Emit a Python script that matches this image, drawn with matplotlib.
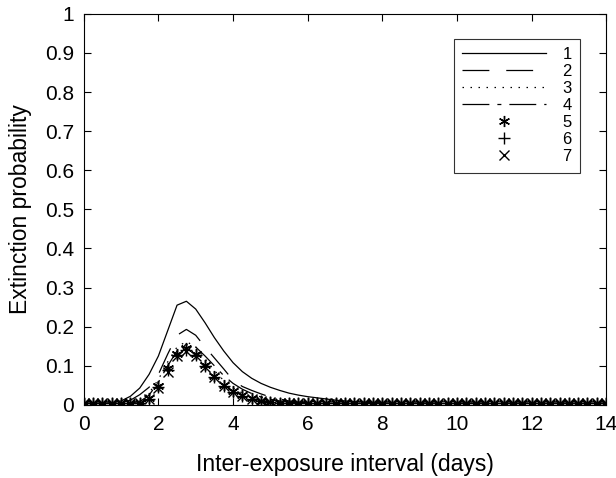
import numpy as np
import matplotlib.pyplot as plt

plt.rcParams["font.family"] = ["Liberation Sans", "DejaVu Sans"]

# =========================
# DATA (0.25 day steps)
# =========================
interval_days = np.arange(0, 14.01, 0.25)

# head values up to x = 8.0, rest is a flat tail
s1_head = [0.004, 0.004, 0.004, 0.005, 0.010, 0.022, 0.043, 0.078, 0.125, 0.190,
           0.255, 0.265, 0.245, 0.210, 0.172, 0.138, 0.108, 0.085, 0.068, 0.055,
           0.045, 0.037, 0.030, 0.025, 0.021, 0.018, 0.015, 0.012, 0.010, 0.008,
           0.007, 0.006, 0.005]
s2_head = [0.004, 0.004, 0.004, 0.004, 0.006, 0.012, 0.026, 0.045, 0.078, 0.130,
           0.178, 0.193, 0.178, 0.148, 0.120, 0.092, 0.063, 0.047, 0.037, 0.028,
           0.020, 0.015, 0.010, 0.007, 0.005]
s3_head = [0.004, 0.004, 0.004, 0.004, 0.004, 0.005, 0.010, 0.030, 0.065, 0.110,
           0.148, 0.162, 0.148, 0.118, 0.088, 0.062, 0.043, 0.030, 0.021, 0.014,
           0.010, 0.007, 0.005]
s4_head = [0.004, 0.004, 0.004, 0.004, 0.004, 0.005, 0.008, 0.025, 0.058, 0.100,
           0.138, 0.155, 0.148, 0.125, 0.100, 0.075, 0.055, 0.040, 0.029, 0.020,
           0.014, 0.010, 0.007, 0.005]
s5_head = [0.004, 0.004, 0.004, 0.004, 0.004, 0.004, 0.005, 0.017, 0.048, 0.094,
           0.130, 0.145, 0.130, 0.102, 0.074, 0.051, 0.036, 0.025, 0.017, 0.011,
           0.008, 0.006, 0.005]
s6_head = [0.004, 0.004, 0.004, 0.004, 0.004, 0.004, 0.005, 0.015, 0.046, 0.090,
           0.127, 0.140, 0.128, 0.100, 0.072, 0.049, 0.034, 0.023, 0.016, 0.010,
           0.007, 0.005]
s7_head = [0.004, 0.004, 0.004, 0.004, 0.004, 0.004, 0.005, 0.014, 0.043, 0.085,
           0.124, 0.137, 0.125, 0.098, 0.070, 0.047, 0.032, 0.022, 0.015, 0.010,
           0.007, 0.005]
TAIL = 0.004


def pad(head):
    return np.array(head + [TAIL] * (len(interval_days) - len(head)))


series = [pad(s) for s in [s1_head, s2_head, s3_head, s4_head,
                           s5_head, s6_head, s7_head]]
labels = ["1", "2", "3", "4", "5", "6", "7"]

# =========================
# FIGURE
# =========================
fig = plt.figure(figsize=(6.16, 4.78), dpi=100)
ax = fig.add_axes([0.136, 0.153, 0.848, 0.818])

k = "black"
ax.plot(interval_days, series[0], color=k, lw=0.9, ls="-", label=labels[0])
ax.plot(interval_days, series[1], color=k, lw=0.9, ls=(0, (21.5, 13.5)), label=labels[1])
ax.plot(interval_days, series[2], color=k, lw=0.9, ls=(0, (1.2, 5.2)), label=labels[2])
ax.plot(interval_days, series[3], color=k, lw=0.9, ls=(0, (21.5, 6.4, 3.2, 6.4)),
        label=labels[3])
ax.plot(interval_days, series[4], color=k, ls="none", marker=(6, 2, 0), ms=8,
        mew=1.0, label=labels[4])
ax.plot(interval_days, series[5], color=k, ls="none", marker="+", ms=8,
        mew=1.0, label=labels[5])
ax.plot(interval_days, series[6], color=k, ls="none", marker="x", ms=7,
        mew=1.0, label=labels[6])

ax.set_xlim(0, 14)
ax.set_ylim(0, 1)
ax.set_xticks(range(0, 15, 2))
ax.set_yticks(np.arange(0, 1.01, 0.1))
ax.set_yticklabels(["0", "0.1", "0.2", "0.3", "0.4", "0.5", "0.6",
                    "0.7", "0.8", "0.9", "1"])
ax.tick_params(direction="in", top=True, right=True, length=5, width=0.8,
               labelsize=15, pad=7)
for sp in ax.spines.values():
    sp.set_linewidth(0.8)

ax.set_xlabel("Inter-exposure interval (days)", fontsize=16.5, labelpad=14)
ax.set_ylabel("Extinction probability", fontsize=16.5, labelpad=9)

leg = ax.legend(loc="upper right", bbox_to_anchor=(0.950, 0.936), fontsize=12,
                frameon=True, fancybox=False, edgecolor="black",
                handlelength=5.0, handletextpad=1.0, labelspacing=0.12,
                borderpad=0.5, borderaxespad=0.0)
leg.get_frame().set_linewidth(0.8)

fig.savefig("out.png", dpi=100)
